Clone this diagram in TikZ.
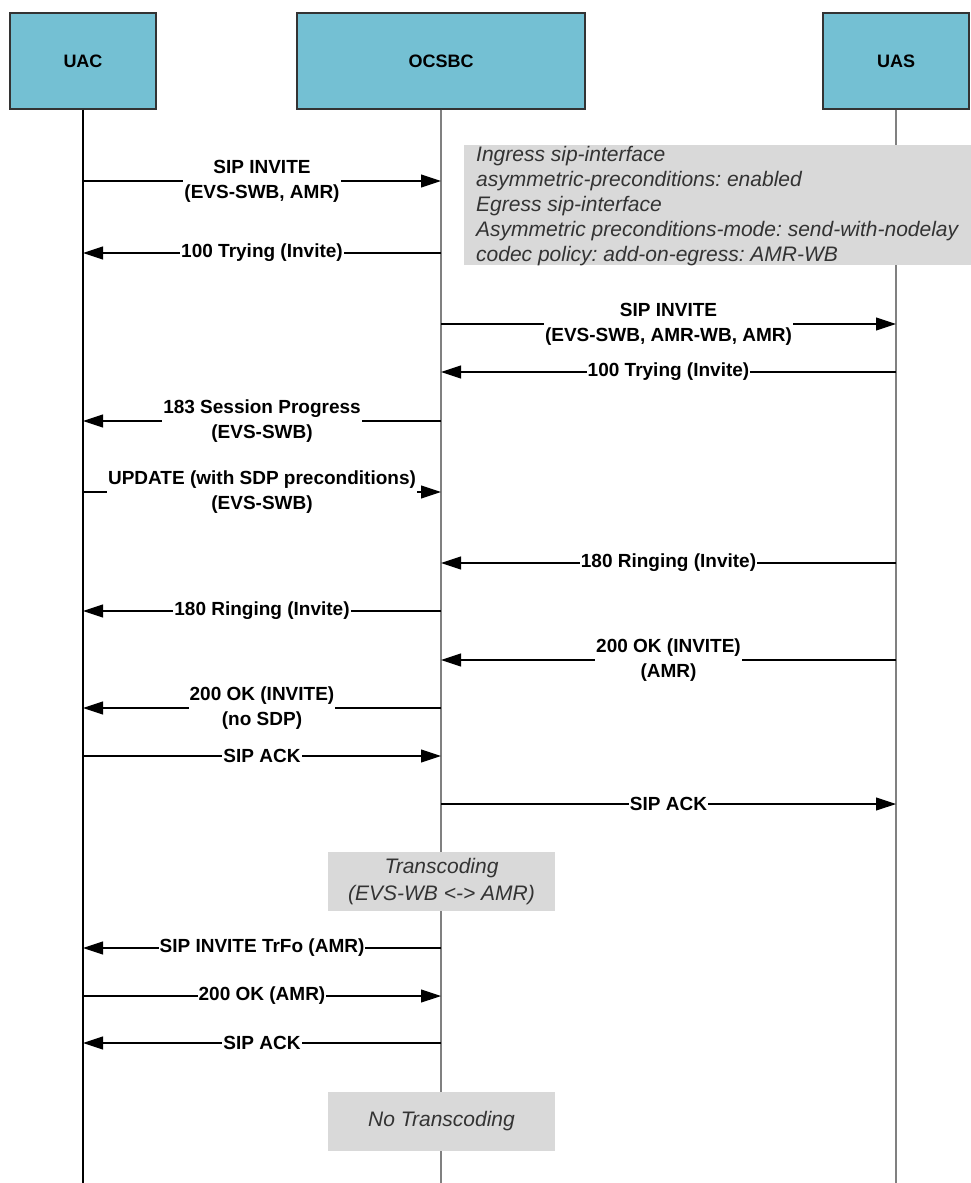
\documentclass[tikz,border=0pt]{standalone}
\usepackage{fontspec}
\setmainfont{Liberation Sans}
\usepackage{xcolor}
\definecolor{colActor}{RGB}{116,192,211}
\colorlet{colNote}{black!15}
\colorlet{colLife}{black!50}
\usetikzlibrary{arrows.meta, positioning, calc}
\frenchspacing
\tikzset{
	actorbox/.style={draw=black!80, line width=1.2pt, fill=colActor, minimum height=96pt, font=\fontsize{18}{22}\selectfont\bfseries},
	notebox/.style={fill=colNote, inner sep=0pt},
	notetext/.style={font=\fontsize{21}{25}\selectfont\itshape, text=black!80, inner sep=0pt},
	lifeline/.style={line width=1.4pt, colLife},
	msgarr/.style={-{Triangle[length=20pt, width=13pt]}, line width=1.1pt},
	msglbl/.style={fill=white, inner xsep=1pt, inner ysep=0pt, align=center, font=\fontsize{19}{25}\selectfont\bfseries},
}

\begin{document}
\begin{tikzpicture}[x=1pt, y=-1pt]
	\useasboundingbox (0,0) rectangle (971,1183);

	% Actors
	\node[actorbox, minimum width=146pt] (uac) at (83,61) {UAC};
	\node[actorbox, minimum width=288pt] (ocsbc) at (441,61) {OCSBC};
	\node[actorbox, minimum width=146pt] (uas) at (896,61) {UAS};

	% Lifelines
	\coordinate (bottom) at (0,1183);
	\draw[lifeline, black] (uac.south) -- (uac |- bottom);
	\draw[lifeline] (ocsbc.south) -- (ocsbc |- bottom);
	\draw[lifeline] (uas.south) -- (uas |- bottom);

	% Message rows
	\coordinate (m1) at (0,181);
	\coordinate (m2) at (0,253);
	\coordinate (m3) at (0,324);
	\coordinate (m4) at (0,372);
	\coordinate (m5) at (0,421);
	\coordinate (m6) at (0,492);
	\coordinate (m7) at (0,563);
	\coordinate (m8) at (0,611);
	\coordinate (m9) at (0,660);
	\coordinate (m10) at (0,708);
	\coordinate (m11) at (0,756);
	\coordinate (m12) at (0,804);
	\coordinate (m13) at (0,948);
	\coordinate (m14) at (0,996);
	\coordinate (m15) at (0,1043);

	% Policy note
	\node[notebox, anchor=north west, minimum width=507pt, minimum height=120pt] (cfg) at (464,145) {};
	\node[notetext, anchor=north west, align=left] (cfgtxt) at (476,146) {Ingress sip-interface\\asymmetric-preconditions: enabled\\Egress sip-interface\\Asymmetric preconditions-mode: send-with-nodelay\\codec policy: add-on-egress: AMR-WB};

	% Call setup
	\draw[msgarr] (uac |- m1) -- (ocsbc |- m1) node[midway, msglbl] {SIP INVITE\\(EVS-SWB, AMR)};
	\draw[msgarr] (ocsbc |- m2) -- (uac |- m2) node[midway, msglbl] {100 Trying (Invite)};
	\draw[msgarr] (ocsbc |- m3) -- (uas |- m3) node[midway, msglbl] {SIP INVITE\\(EVS-SWB, AMR-WB, AMR)};
	\draw[msgarr] (uas |- m4) -- (ocsbc |- m4) node[midway, msglbl] {100 Trying (Invite)};
	\draw[msgarr] (ocsbc |- m5) -- (uac |- m5) node[midway, msglbl] {183 Session Progress\\(EVS-SWB)};
	\draw[msgarr] (uac |- m6) -- (ocsbc |- m6) node[midway, msglbl] {UPDATE (with SDP preconditions)\\(EVS-SWB)};
	\draw[msgarr] (uas |- m7) -- (ocsbc |- m7) node[midway, msglbl] {180 Ringing (Invite)};
	\draw[msgarr] (ocsbc |- m8) -- (uac |- m8) node[midway, msglbl] {180 Ringing (Invite)};
	\draw[msgarr] (uas |- m9) -- (ocsbc |- m9) node[midway, msglbl] {200 OK (INVITE)\\(AMR)};
	\draw[msgarr] (ocsbc |- m10) -- (uac |- m10) node[midway, msglbl] {200 OK (INVITE)\\(no SDP)};
	\draw[msgarr] (uac |- m11) -- (ocsbc |- m11) node[midway, msglbl] {SIP ACK};
	\draw[msgarr] (ocsbc |- m12) -- (uas |- m12) node[midway, msglbl] {SIP ACK};

	% Transcoding
	\node[notebox, notetext, font=\fontsize{21}{27}\selectfont\itshape, align=center, minimum width=227pt, minimum height=59pt] (trans) at (441.5,881.5) {Transcoding\\(EVS-WB <-> AMR)};

	% TrFo re-invite
	\draw[msgarr] (ocsbc |- m13) -- (uac |- m13) node[midway, msglbl] {SIP INVITE TrFo (AMR)};
	\draw[msgarr] (uac |- m14) -- (ocsbc |- m14) node[midway, msglbl] {200 OK (AMR)};
	\draw[msgarr] (ocsbc |- m15) -- (uac |- m15) node[midway, msglbl] {SIP ACK};

	% No transcoding
	\node[notebox, notetext, minimum width=227pt, minimum height=59pt] (notrans) at (441.5,1121.5) {No Transcoding};
\end{tikzpicture}
\end{document}
